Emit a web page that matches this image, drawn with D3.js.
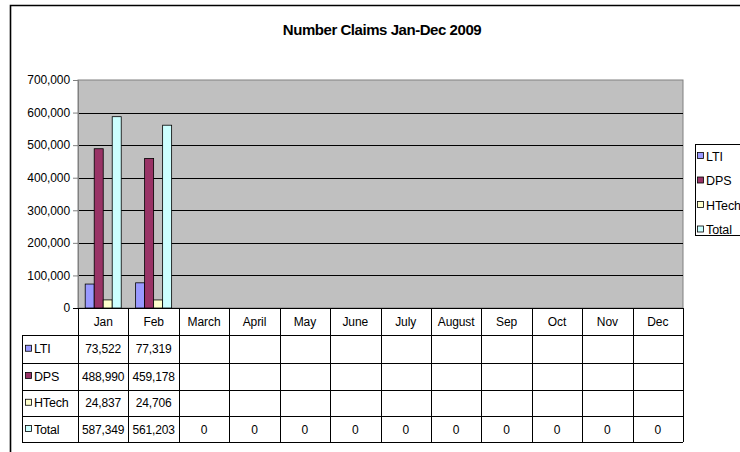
<!DOCTYPE html>
<html>
<head>
<meta charset="utf-8">
<script src="https://cdn.jsdelivr.net/npm/d3@7"></script>
<style>
  body { margin: 0; background: #fff; }
  svg text { font-family: "Liberation Sans", Arial, sans-serif; fill: #000; }
</style>
</head>
<body>
<svg id="svg" width="740" height="452"></svg>
<script>
const months = ["Jan", "Feb", "March", "April", "May", "June", "July", "August", "Sep", "Oct", "Nov", "Dec"];
const seriesNames = ["LTI", "DPS", "HTech", "Total"];
const lti = [73522, 77319, null, null, null, null, null, null, null, null, null, null];
const dps = [488990, 459178, null, null, null, null, null, null, null, null, null, null];
const htech = [24837, 24706, null, null, null, null, null, null, null, null, null, null];
const total = [587349, 561203, 0, 0, 0, 0, 0, 0, 0, 0, 0, 0];
const yTicks = [0, 100000, 200000, 300000, 400000, 500000, 600000, 700000];
const colors = ["#9999FF", "#993366", "#FFFFCC", "#CCFFFF"];

const series = [lti, dps, htech, total];

const svg = d3.select("#svg");

const plotLeft = 78, plotRight = 683, plotTop = 80, plotBottom = 308;
const tableLeft = 22;
const rowH = [308, 335, 362.5, 389.5, 416, 442];

const x = d3.scaleBand().domain(months).range([plotLeft, plotRight]).padding(0);
const xSub = d3.scaleBand().domain(seriesNames).range([0, x.bandwidth()]).paddingInner(0).paddingOuter(0.8);
const y = d3.scaleLinear().domain([0, 700000]).range([plotBottom, plotTop]);
const fmt = d3.format(",");

// outer chart border (runs off the right and bottom)
svg.append("path")
	.attr("d", "M10.5,452 V5.5 H740")
	.attr("fill", "none")
	.attr("stroke", "#000")
	.attr("stroke-width", 1.6);

// title
svg.append("text")
	.attr("x", 382)
	.attr("y", 35)
	.attr("text-anchor", "middle")
	.attr("font-size", 15)
	.attr("font-weight", "bold")
	.attr("letter-spacing", -0.45)
	.text("Number Claims Jan-Dec 2009");

// plot area
svg.append("rect")
	.attr("x", plotLeft)
	.attr("y", plotTop)
	.attr("width", plotRight - plotLeft)
	.attr("height", plotBottom - plotTop)
	.attr("fill", "#C0C0C0")
	.attr("stroke", "#808080")
	.attr("stroke-width", 1);

// gridlines
svg.selectAll(".grid")
	.data(yTicks.filter((d) => d > 0 && d < 700000))
	.join("line")
	.attr("class", "grid")
	.attr("x1", plotLeft)
	.attr("x2", plotRight)
	.attr("y1", (d) => Math.round(y(d)) + 0.5)
	.attr("y2", (d) => Math.round(y(d)) + 0.5)
	.attr("stroke", "#000")
	.attr("stroke-width", 1);

// y axis
const yAxis = svg.append("g")
	.attr("transform", `translate(${plotLeft},0)`)
	.call(d3.axisLeft(y).tickValues(yTicks).tickFormat(fmt).tickSize(5).tickPadding(3));
yAxis.select(".domain").attr("stroke", "#808080");
yAxis.selectAll(".tick line").attr("stroke", "#808080");
yAxis.selectAll("text")
	.attr("font-size", 12)
	.attr("letter-spacing", -0.1)
	.attr("font-family", "Liberation Sans, Arial, sans-serif");

// bars
seriesNames.forEach((name, si) => {
	svg.selectAll(`.bar-${name}`)
		.data(series[si].map((v, i) => ({ month: months[i], value: v })).filter((d) => d.value))
		.join("rect")
		.attr("class", `bar-${name}`)
		.attr("x", (d) => x(d.month) + xSub(name))
		.attr("y", (d) => y(d.value))
		.attr("width", xSub.bandwidth())
		.attr("height", (d) => plotBottom - y(d.value))
		.attr("fill", colors[si])
		.attr("stroke", "#000")
		.attr("stroke-width", 0.8);
});

// axis base line
svg.append("line")
	.attr("x1", plotLeft - 5).attr("x2", plotRight)
	.attr("y1", plotBottom + 0.5).attr("y2", plotBottom + 0.5)
	.attr("stroke", "#000");

// data table
const table = svg.append("g");
table.selectAll(".hline")
	.data(rowH.slice(1))
	.join("line")
	.attr("class", "hline")
	.attr("x1", tableLeft)
	.attr("x2", plotRight)
	.attr("y1", (d) => Math.round(d) + 0.5)
	.attr("y2", (d) => Math.round(d) + 0.5)
	.attr("stroke", "#000");
table.selectAll(".vline")
	.data(months.map((m) => x(m)).concat([plotRight]))
	.join("line")
	.attr("class", "vline")
	.attr("x1", (d) => Math.round(d) + 0.5)
	.attr("x2", (d) => Math.round(d) + 0.5)
	.attr("y1", plotBottom)
	.attr("y2", rowH[5])
	.attr("stroke", "#000");
table.append("line")
	.attr("x1", tableLeft + 0.5).attr("x2", tableLeft + 0.5)
	.attr("y1", rowH[1]).attr("y2", rowH[5])
	.attr("stroke", "#000");

// header month labels
table.selectAll(".month")
	.data(months)
	.join("text")
	.attr("class", "month")
	.attr("x", (d) => x(d) + x.bandwidth() / 2)
	.attr("y", (rowH[0] + rowH[1]) / 2 + 4)
	.attr("text-anchor", "middle")
	.attr("font-size", 12)
	.attr("letter-spacing", -0.1)
	.text((d) => d);

// row labels + values
seriesNames.forEach((name, si) => {
	const cy = (rowH[si + 1] + rowH[si + 2]) / 2;
	table.append("rect")
		.attr("x", 25.5).attr("y", cy - 3.5)
		.attr("width", 6).attr("height", 6)
		.attr("fill", colors[si])
		.attr("stroke", "#000")
		.attr("stroke-width", 0.8);
	table.append("text")
		.attr("x", 34)
		.attr("y", cy + 4.5)
		.attr("font-size", 12.5)
		.attr("letter-spacing", -0.2)
		.text(name);
	table.selectAll(`.val-${name}`)
		.data(series[si].map((v, i) => ({ month: months[i], value: v })).filter((d) => d.value !== null))
		.join("text")
		.attr("class", `val-${name}`)
		.attr("x", (d) => x(d.month) + x.bandwidth() / 2)
		.attr("y", cy + 4.5)
		.attr("text-anchor", "middle")
		.attr("font-size", 12)
		.attr("letter-spacing", -0.15)
		.text((d) => fmt(d.value));
});

// legend
const legend = svg.append("g");
legend.append("rect")
	.attr("x", 695.5).attr("y", 144.5)
	.attr("width", 50).attr("height", 91)
	.attr("fill", "#fff")
	.attr("stroke", "#000");
seriesNames.forEach((name, si) => {
	const ly = 156 + si * 24.5;
	legend.append("rect")
		.attr("x", 697.5).attr("y", ly - 3.5)
		.attr("width", 6).attr("height", 6)
		.attr("fill", colors[si])
		.attr("stroke", "#000")
		.attr("stroke-width", 0.8);
	legend.append("text")
		.attr("x", 706)
		.attr("y", ly + 4.5)
		.attr("font-size", 12.5)
		.attr("letter-spacing", -0.1)
		.text(name);
});
</script>
</body>
</html>
